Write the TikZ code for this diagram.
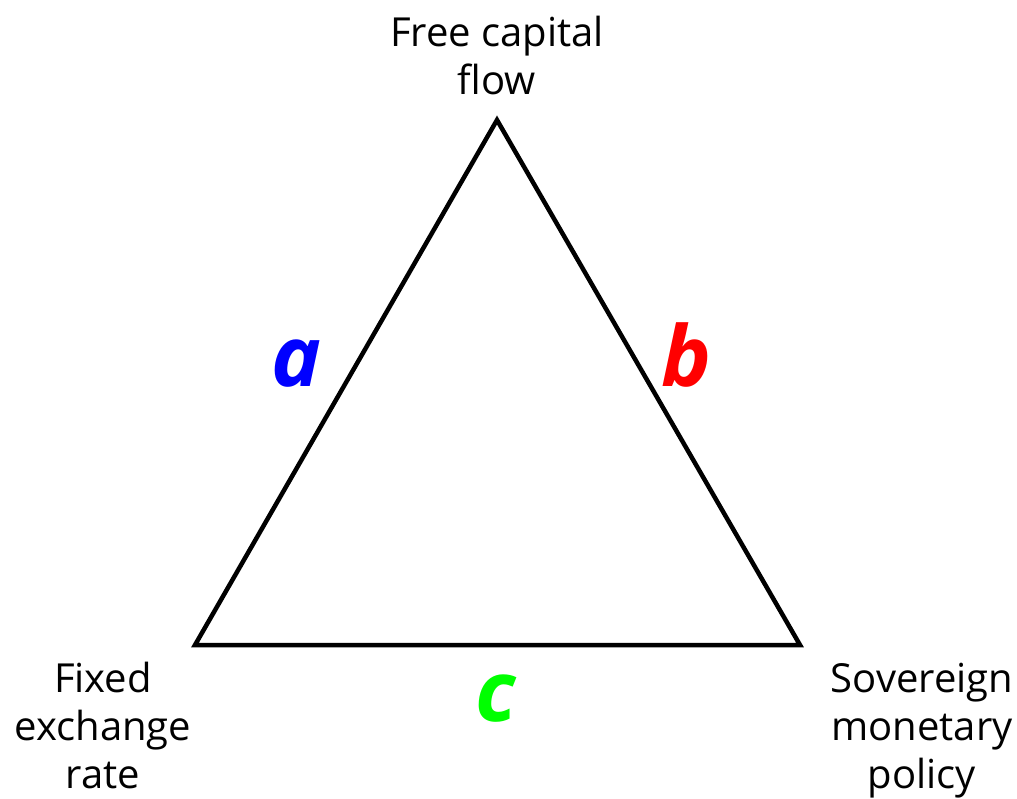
\documentclass[tikz,border=0pt]{standalone}
\usepackage{fontspec}
\setmainfont{Open Sans}
\begin{document}
\begin{tikzpicture}[x=1pt,y=-1pt,
  vlabel/.style={align=center,anchor=base,inner sep=0pt,font=\fontsize{40}{48}\selectfont},
  side/.style={anchor=base,inner sep=0pt,font=\fontsize{84}{84}\selectfont\bfseries\itshape},
  edge/.style={line width=4.5pt,line join=miter,draw=black}]
\useasboundingbox (0,0) rectangle (1017,799);
\coordinate (T) at (497,120);
\coordinate (L) at (195,645);
\coordinate (R) at (800,645);
\draw[edge] (T) -- (R) -- (L) -- cycle;
\node[vlabel] (top) at (497,95) {Free capital\\flow};
\node[vlabel] (fx) at (103,788) {Fixed\\exchange\\rate};
\node[vlabel] (sv) at (922,788) {Sovereign\\monetary\\policy};
\node[side,text={rgb,255:red,0;green,0;blue,255}] (a) at (296,386) {a};
\node[side,text={rgb,255:red,255;green,0;blue,0}] (b) at (686,386) {b};
\node[side,text={rgb,255:red,0;green,255;blue,0}] (c) at (496,721) {c};
\end{tikzpicture}
\end{document}
